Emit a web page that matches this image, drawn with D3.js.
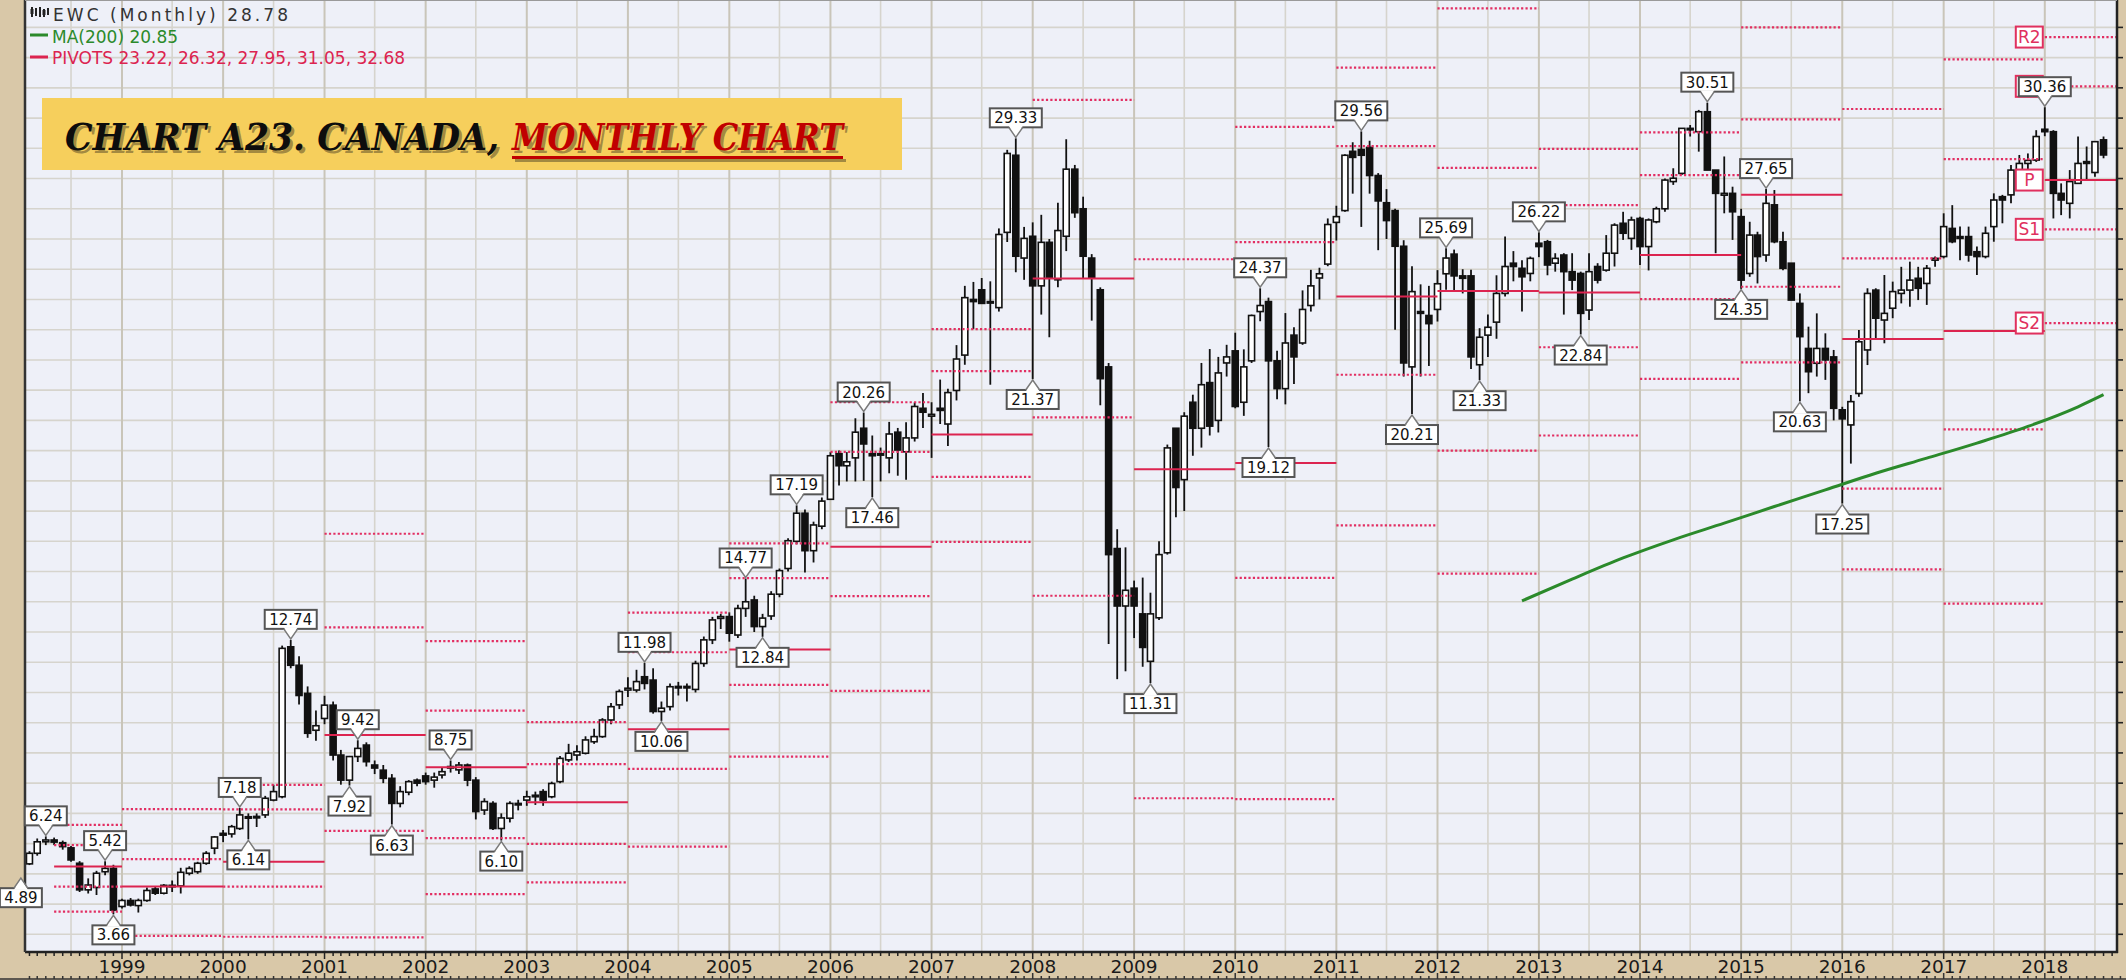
<!DOCTYPE html>
<html>
<head>
<meta charset="utf-8">
<script src="https://cdn.jsdelivr.net/npm/d3@7"></script>
<style>
  html, body { margin: 0; padding: 0; background: #d9c8a8; }
  svg { display: block; }
</style>
</head>
<body>
<svg id="chart" width="2126" height="980"></svg>
<script>
// ---------------------------------------------------------------
// EWC monthly candles, Jan 1998 – Aug 2018
// ---------------------------------------------------------------
const firstMonth = "1998-01";

const open = [
  // 1998
  5.00, 5.33, 5.68, 6.06, 6.12, 6.03, 5.86, 5.35, 4.47, 4.55, 5.07, 5.18,
  // 1999
  3.92, 4.12, 3.95, 4.12, 4.50, 4.36, 4.62, 4.60, 5.02, 5.07, 5.35, 5.85,
  // 2000
  6.34, 6.32, 6.50, 6.89, 6.90, 6.95, 7.44, 7.55, 12.51, 11.90, 10.97, 9.75,
  // 2001
  10.14, 10.58, 8.93, 8.10, 8.88, 9.26, 8.60, 8.43, 8.16, 7.33, 7.70, 8.10,
  // 2002
  8.24, 8.10, 8.27, 8.50, 8.44, 8.60, 8.10, 7.11, 7.33, 6.50, 6.84, 7.33,
  // 2003
  7.44, 7.55, 7.72, 7.55, 8.05, 8.77, 8.93, 8.99, 9.37, 9.54, 10.09, 10.59,
  // 2004
  11.08, 11.08, 11.52, 11.41, 10.37, 10.53, 11.20, 11.15, 11.10, 11.96, 12.74, 13.45,
  // 2005
  13.51, 12.90, 13.78, 14.06, 13.18, 13.53, 14.25, 15.10, 16.00, 16.93, 15.69, 16.50,
  // 2006
  17.39, 18.90, 18.50, 18.76, 19.74, 18.90, 18.85, 18.76, 19.61, 18.96, 19.42, 20.40,
  // 2007
  20.14, 20.40, 19.88, 20.99, 22.16, 24.00, 24.32, 23.90, 23.73, 26.22, 28.77, 25.37,
  // 2008
  26.09, 24.45, 25.89, 24.65, 26.09, 28.31, 27.00, 25.37, 24.32, 21.77, 15.76, 13.86,
  // 2009
  14.45, 13.60, 12.03, 13.47, 15.62, 19.74, 18.04, 20.60, 19.74, 21.25, 20.00, 21.90,
  // 2010
  22.30, 20.60, 21.97, 23.60, 23.93, 21.97, 21.05, 22.82, 22.56, 23.80, 24.71, 25.17,
  // 2011
  26.55, 26.94, 28.90, 28.96, 29.03, 28.10, 27.20, 26.94, 25.76, 21.77, 23.60, 23.47,
  // 2012
  23.67, 24.85, 25.50, 24.78, 24.78, 21.84, 22.82, 23.25, 24.20, 25.20, 25.03, 24.86,
  // 2013
  25.86, 25.91, 25.20, 25.47, 24.92, 24.86, 23.65, 25.09, 24.97, 25.53, 26.52, 26.02,
  // 2014
  26.68, 25.75, 26.57, 27.00, 27.90, 28.17, 29.66, 29.55, 30.21, 28.28, 27.45, 27.51,
  // 2015
  26.74, 24.86, 26.13, 25.47, 27.13, 25.91, 25.20, 23.87, 22.38, 21.89, 22.38, 22.10,
  // 2016
  20.35, 19.85, 20.89, 22.33, 24.31, 23.32, 23.71, 24.20, 24.31, 24.70, 24.53, 25.30,
  // 2017
  25.42, 26.35, 26.08, 26.08, 25.58, 25.42, 26.41, 27.40, 27.46, 28.28, 28.50, 28.61,
  // 2018
  29.63, 29.55, 27.51, 27.18, 27.84, 28.56, 28.20, 29.28
];

const high = [
  5.40, 5.75, 6.17, 6.24, 6.20, 6.10, 5.92, 5.42, 4.85, 5.10, 5.42, 5.30,
  4.18, 4.20, 4.18, 4.55, 4.58, 4.66, 4.78, 5.20, 5.25, 5.40, 5.75, 6.25,
  6.45, 6.62, 7.18, 7.00, 7.00, 7.58, 7.95, 12.55, 12.74, 12.20, 11.20, 10.40,
  10.89, 10.70, 9.10, 8.90, 9.42, 9.35, 8.75, 8.60, 8.30, 7.90, 8.10, 8.15,
  8.35, 8.35, 8.50, 8.75, 8.70, 8.65, 8.20, 7.50, 7.40, 7.00, 7.40, 7.45,
  7.75, 7.72, 7.80, 8.05, 8.90, 9.30, 9.25, 9.55, 9.80, 10.15, 10.65, 11.10,
  11.50, 11.75, 11.98, 11.80, 10.70, 11.30, 11.35, 11.30, 12.05, 12.85, 13.50, 13.60,
  13.65, 13.90, 14.77, 14.20, 13.60, 14.35, 15.10, 16.10, 17.19, 17.05, 16.65, 17.45,
  18.95, 19.00, 18.95, 20.07, 20.26, 19.50, 19.10, 19.95, 19.75, 19.94, 20.60, 20.91,
  20.60, 21.35, 21.05, 22.49, 24.45, 24.58, 24.71, 24.60, 26.35, 28.95, 29.33, 26.40,
  26.55, 26.80, 26.00, 27.20, 29.30, 28.45, 27.40, 25.50, 24.40, 21.90, 16.40, 15.80,
  14.70, 14.80, 14.30, 16.00, 19.20, 19.75, 20.27, 20.85, 21.90, 22.36, 22.10, 22.50,
  22.90, 22.35, 23.50, 24.37, 24.06, 22.30, 23.55, 23.08, 24.30, 24.98, 25.05, 26.68,
  27.10, 28.80, 29.20, 29.56, 29.25, 28.18, 27.65, 27.00, 25.96, 25.10, 24.50, 24.45,
  24.97, 25.69, 25.65, 25.00, 24.98, 23.05, 23.50, 24.80, 26.08, 25.60, 25.30, 25.42,
  26.22, 25.97, 25.53, 25.53, 25.53, 24.92, 25.53, 25.20, 26.13, 26.52, 26.90, 26.74,
  26.74, 26.68, 27.07, 28.00, 28.34, 29.66, 29.77, 30.27, 30.51, 28.28, 28.73, 27.73,
  27.00, 26.57, 26.24, 27.65, 27.62, 26.24, 25.20, 24.20, 23.10, 23.54, 22.88, 22.33,
  20.45, 20.84, 22.99, 24.37, 24.37, 24.81, 24.59, 25.08, 25.25, 25.08, 25.14, 25.42,
  26.85, 27.12, 26.41, 26.41, 25.75, 26.41, 27.51, 27.46, 28.45, 28.78, 28.83, 29.60,
  30.36, 29.60, 27.84, 28.28, 29.39, 29.06, 29.22, 29.39
];

const low = [
  4.89, 5.29, 5.60, 5.95, 5.95, 5.80, 5.40, 4.40, 4.35, 4.30, 4.95, 3.66,
  3.85, 3.92, 3.72, 4.08, 4.30, 4.32, 4.40, 4.35, 4.95, 5.00, 5.30, 5.65,
  6.05, 6.20, 6.45, 6.14, 6.55, 6.85, 7.40, 7.50, 11.80, 10.60, 9.50, 9.40,
  9.95, 8.75, 7.95, 7.92, 8.70, 8.55, 8.30, 8.00, 6.63, 7.20, 7.60, 7.90,
  7.95, 7.85, 8.15, 8.35, 8.30, 7.90, 6.80, 6.95, 6.45, 6.10, 6.70, 7.10,
  7.25, 7.28, 7.25, 7.50, 8.00, 8.70, 8.75, 8.95, 9.30, 9.50, 9.95, 10.45,
  10.85, 11.00, 11.10, 10.30, 10.06, 10.40, 10.90, 10.70, 11.00, 11.85, 12.60, 13.10,
  12.68, 12.80, 13.50, 13.00, 12.84, 13.40, 14.15, 15.00, 15.90, 14.97, 15.30, 16.40,
  17.50, 17.85, 17.98, 17.98, 18.00, 17.46, 17.98, 18.25, 18.17, 18.04, 19.30, 19.75,
  18.76, 19.88, 19.15, 20.66, 21.84, 23.02, 23.87, 21.18, 23.60, 25.90, 24.90, 24.65,
  21.37, 23.50, 22.75, 24.40, 25.60, 26.70, 24.70, 23.30, 20.50, 12.60, 11.44, 11.70,
  12.80, 11.85, 11.31, 13.40, 15.56, 16.80, 17.00, 18.83, 19.10, 19.50, 19.60, 21.45,
  20.40, 20.15, 21.90, 23.28, 19.12, 20.70, 20.53, 21.20, 22.50, 23.60, 24.00, 25.10,
  25.95, 26.90, 27.50, 26.40, 27.50, 25.63, 26.00, 23.00, 21.45, 20.21, 21.45, 21.80,
  23.27, 24.32, 24.30, 24.20, 21.70, 21.33, 22.10, 22.70, 24.10, 24.60, 23.60, 24.60,
  25.40, 24.80, 24.92, 23.50, 24.31, 22.84, 23.32, 24.53, 24.92, 25.09, 25.97, 25.64,
  25.14, 24.96, 26.52, 26.90, 27.79, 28.12, 29.39, 28.89, 28.28, 25.53, 26.85, 25.97,
  24.35, 24.75, 24.53, 25.25, 25.86, 24.97, 23.98, 20.63, 20.90, 21.45, 21.34, 20.00,
  17.25, 18.57, 20.78, 21.83, 22.66, 22.55, 23.38, 23.87, 23.76, 23.98, 23.82, 25.08,
  25.36, 25.86, 25.30, 25.25, 24.81, 25.36, 25.91, 26.52, 27.18, 28.00, 28.10, 28.55,
  29.40, 26.68, 26.79, 26.68, 27.84, 27.95, 28.06, 28.67
];

const close = [
  5.30, 5.68, 6.06, 6.12, 6.05, 5.90, 5.46, 4.47, 4.63, 5.02, 5.18, 3.80,
  4.12, 3.97, 4.12, 4.45, 4.36, 4.62, 4.58, 5.05, 5.18, 5.35, 5.68, 6.22,
  6.28, 6.56, 6.95, 6.84, 6.86, 7.50, 7.72, 12.46, 11.90, 10.90, 9.65, 9.90,
  10.58, 8.93, 8.10, 8.88, 9.15, 8.71, 8.50, 8.16, 7.33, 7.72, 8.05, 8.00,
  8.05, 8.20, 8.38, 8.55, 8.60, 8.10, 7.06, 7.39, 6.50, 6.85, 7.33, 7.28,
  7.55, 7.60, 7.44, 7.99, 8.82, 8.99, 9.04, 9.43, 9.54, 10.09, 10.53, 11.03,
  11.14, 11.36, 11.30, 10.37, 10.48, 11.19, 11.15, 11.20, 11.96, 12.74, 13.40, 13.51,
  12.96, 13.78, 14.00, 13.18, 13.46, 14.25, 15.03, 16.02, 16.93, 15.69, 16.54, 17.33,
  18.83, 18.50, 18.63, 19.61, 19.22, 18.83, 18.90, 19.55, 19.02, 19.42, 20.46, 20.27,
  20.20, 20.33, 20.92, 22.03, 24.06, 23.93, 23.87, 23.93, 26.15, 28.83, 25.43, 26.02,
  24.45, 25.89, 24.71, 26.28, 28.31, 26.87, 25.43, 24.71, 21.38, 15.56, 13.86, 14.38,
  13.86, 12.49, 13.60, 15.56, 19.09, 17.78, 20.14, 19.74, 21.18, 19.81, 21.57, 22.10,
  20.46, 21.77, 23.47, 23.80, 21.97, 21.05, 22.56, 22.10, 23.67, 24.45, 24.85, 26.48,
  26.74, 28.77, 28.70, 28.77, 28.10, 27.26, 26.61, 25.76, 21.90, 24.26, 23.54, 23.20,
  24.52, 25.37, 24.78, 24.70, 22.10, 22.75, 23.08, 24.20, 25.09, 25.09, 24.75, 25.36,
  25.75, 25.14, 25.36, 24.92, 24.64, 23.54, 24.92, 24.64, 25.53, 26.46, 26.19, 26.63,
  25.75, 26.63, 27.00, 27.95, 28.01, 29.66, 29.61, 30.21, 28.28, 27.51, 27.51, 26.90,
  24.64, 26.13, 25.42, 27.18, 25.91, 25.03, 23.98, 22.77, 21.61, 22.38, 22.00, 20.40,
  20.05, 20.62, 22.60, 24.20, 23.38, 23.54, 24.26, 24.31, 24.64, 24.37, 25.03, 25.36,
  26.41, 25.91, 26.02, 25.47, 25.42, 26.19, 27.29, 27.29, 28.28, 28.50, 28.60, 29.39,
  29.55, 27.51, 27.29, 27.90, 28.50, 28.50, 29.22, 28.78
];

// 200-month moving average (green overlay)
const maMonths = ["2012-11", "2013-05", "2013-11", "2014-05", "2014-11", "2015-05", "2015-11",
                  "2016-05", "2016-11", "2017-05", "2017-11", "2018-05", "2018-08"];
const maValues = [14.03, 14.75, 15.45, 16.05, 16.60, 17.15, 17.70,
                  18.25, 18.75, 19.25, 19.80, 20.45, 20.85];

// Annual pivot levels
const pivotYears = [1998, 1999, 2000, 2001, 2002, 2003, 2004, 2005, 2006, 2007, 2008,
                    2009, 2010, 2011, 2012, 2013, 2014, 2015, 2016, 2017, 2018];
const pivotR2 = [6.62, 7.14, 7.94, 16.25, 12.70, 10.02, 13.64, 15.93, 20.60, 23.02, 35.20,
                 36.20, 29.71, 31.67, 33.63, 28.98, 29.53, 33.00, 30.30, 31.94, 32.68];
const pivotR1 = [5.95, 5.49, 7.13, 13.15, 10.40, 8.63, 12.33, 14.78, 18.96, 21.63, 30.60,
                 25.33, 25.90, 29.07, 28.35, 27.12, 28.11, 29.96, 25.36, 28.64, 31.05];
const pivotP  = [5.24, 4.58, 5.40, 9.59, 8.53, 7.37, 9.78, 12.42, 15.82, 19.53, 24.69,
                 18.38, 18.59, 24.10, 24.28, 24.23, 25.47, 27.46, 22.69, 22.96, 27.95];
const pivotS1 = [4.58, 2.95, 4.58, 6.42, 6.18, 5.99, 8.47, 11.25, 14.19, 18.13, 20.10,
                 7.50, 14.79, 21.51, 19.00, 22.42, 24.01, 24.42, 17.74, 19.70, 26.32];
const pivotS2 = [3.75, 2.00, 2.92, 2.90, 4.33, 4.72, 5.90, 8.88, 11.05, 15.98, 14.20,
                 0.50, 7.47, 16.53, 14.93, 19.50, 21.37, 21.92, 15.07, 13.94, 23.22];

// Swing high / low call-outs (month index into the candle arrays, kind)
const calloutMonth = [0, 3, 10, 11, 26, 27, 32, 39, 40, 44, 51, 57, 74, 76, 86, 88, 92, 100,
                      101, 118, 120, 134, 147, 148, 159, 165, 169, 173, 180, 185, 200, 204,
                      207, 211, 216, 240];
const calloutKind = ["L", "H", "H", "L", "H", "L", "H", "L", "H", "L", "H", "L", "H", "L", "H", "L", "H", "H",
                     "L", "H", "L", "L", "H", "L", "H", "L", "H", "L", "H", "L", "H", "L",
                     "H", "L", "L", "H"];

const yearTicks = d3.range(1999, 2019);
const legendLast = 28.78;
const legendMA = 20.85;

// ---------------------------------------------------------------
const W = 2126, H = 980;
const plot = { left: 25, right: 2117, top: 0, bottom: 952 };

const parseMonth = d3.timeParse("%Y-%m");
const start = parseMonth(firstMonth);
const candles = open.map((o, i) => ({
  date: d3.timeMonth.offset(start, i),
  o, h: high[i], l: low[i], c: close[i]
}));

const x = d3.scaleTime()
  .domain([new Date(1999, 0, 1), new Date(2018, 0, 1)])
  .range([122, 2044.8]);
const y = d3.scaleLinear().domain([0, 33.906]).range([1025, 0]);

const svg = d3.select("#chart");
const FONT = "'DejaVu Sans', Verdana, sans-serif";

svg.append("rect").attr("width", W).attr("height", H).attr("fill", "#d9c8a8");
svg.append("rect")
  .attr("x", plot.left).attr("y", plot.top)
  .attr("width", plot.right - plot.left).attr("height", plot.bottom - plot.top)
  .attr("fill", "#eef0f8");

svg.append("defs").append("clipPath").attr("id", "plotClip")
  .append("rect")
  .attr("x", plot.left).attr("y", plot.top)
  .attr("width", plot.right - plot.left).attr("height", plot.bottom - plot.top);

// ---- grid
const grid = svg.append("g").attr("clip-path", "url(#plotClip)");
grid.selectAll("line.hg").data(d3.range(3, 34)).join("line")
  .attr("class", "hg")
  .attr("x1", plot.left).attr("x2", plot.right)
  .attr("y1", d => y(d)).attr("y2", d => y(d))
  .attr("stroke", "#d6d4cd").attr("stroke-width", 1.6);
const halfYears = d3.timeMonth.every(6).range(new Date(1998, 0, 1), new Date(2019, 0, 2));
grid.selectAll("line.vg").data(halfYears).join("line")
  .attr("class", "vg")
  .attr("x1", d => x(d)).attr("x2", d => x(d))
  .attr("y1", plot.top).attr("y2", plot.bottom)
  .attr("stroke", d => d.getMonth() === 0 ? "#c9c5b9" : "#d6d4cd")
  .attr("stroke-width", d => d.getMonth() === 0 ? 2 : 1.6);

// ---- candles
const cg = svg.append("g").attr("clip-path", "url(#plotClip)");
const bodyW = 6;
cg.selectAll("line.wick").data(candles).join("line")
  .attr("class", "wick")
  .attr("x1", d => x(d.date)).attr("x2", d => x(d.date))
  .attr("y1", d => y(d.h)).attr("y2", d => y(d.l))
  .attr("stroke", "#111").attr("stroke-width", 1.8);
cg.selectAll("rect.body").data(candles).join("rect")
  .attr("class", "body")
  .attr("x", d => x(d.date) - bodyW / 2)
  .attr("width", bodyW)
  .attr("y", d => y(Math.max(d.o, d.c)))
  .attr("height", d => Math.max(1.5, Math.abs(y(d.o) - y(d.c))))
  .attr("fill", d => d.c < d.o ? "#111" : "#ffffff")
  .attr("stroke", "#111").attr("stroke-width", 1.6);

// ---- pivot segments
const levels = [
  { key: "R2", vals: pivotR2, solid: false },
  { key: "R1", vals: pivotR1, solid: false },
  { key: "P",  vals: pivotP,  solid: true },
  { key: "S1", vals: pivotS1, solid: false },
  { key: "S2", vals: pivotS2, solid: false }
];
const segs = [];
pivotYears.forEach((yr, k) => {
  const x0 = k === 0 ? x(d3.timeMonth.offset(start, 4)) : x(new Date(yr, 0, 1));
  const x1 = k === pivotYears.length - 1 ? plot.right : x(new Date(yr + 1, 0, 1));
  levels.forEach(lv => segs.push({ x0, x1, v: lv.vals[k], solid: lv.solid }));
});
const pg = svg.append("g").attr("clip-path", "url(#plotClip)");
pg.selectAll("line").data(segs).join("line")
  .attr("x1", d => d.x0).attr("x2", d => d.x1)
  .attr("y1", d => y(d.v)).attr("y2", d => y(d.v))
  .attr("stroke", d => d.solid ? "#dc2450" : "#e22e62")
  .attr("stroke-width", d => d.solid ? 2 : 2.2)
  .attr("stroke-dasharray", d => d.solid ? null : "2.2,2.2");

// ---- moving average
const maData = maMonths.map((m, i) => ({ date: parseMonth(m), v: maValues[i] }));
svg.append("path").datum(maData)
  .attr("clip-path", "url(#plotClip)")
  .attr("fill", "none").attr("stroke", "#2b8a2b").attr("stroke-width", 3)
  .attr("d", d3.line().x(d => x(d.date)).y(d => y(d.v)).curve(d3.curveMonotoneX));

// ---- axes frame
const axis = svg.append("g");
axis.append("line").attr("x1", plot.left).attr("x2", plot.right + 1)
  .attr("y1", plot.bottom).attr("y2", plot.bottom).attr("stroke", "#222").attr("stroke-width", 2.5);
axis.append("line").attr("x1", plot.left).attr("x2", plot.left)
  .attr("y1", 0).attr("y2", plot.bottom).attr("stroke", "#333").attr("stroke-width", 2.5);
axis.append("line").attr("x1", plot.right).attr("x2", plot.right)
  .attr("y1", 0).attr("y2", plot.bottom + 1).attr("stroke", "#222").attr("stroke-width", 2.5);
axis.append("line").attr("x1", plot.left).attr("x2", plot.right)
  .attr("y1", 0.5).attr("y2", 0.5).attr("stroke", "#9a9a9a").attr("stroke-width", 1);

// month ticks along the date axis
const allMonths = d3.timeMonth.range(new Date(1998, 1, 1), new Date(2018, 11, 1));
axis.selectAll("line.mt").data(allMonths.filter(d => x(d) > plot.left && x(d) < plot.right)).join("line")
  .attr("class", "mt")
  .attr("x1", d => x(d)).attr("x2", d => x(d))
  .attr("y1", plot.bottom).attr("y2", d => plot.bottom + (d.getMonth() === 0 ? 7 : 4))
  .attr("stroke", "#222").attr("stroke-width", 1.5);
axis.append("line").attr("x1", 0).attr("x2", W).attr("y1", 979).attr("y2", 979)
  .attr("stroke", "#333").attr("stroke-width", 1.5);
axis.selectAll("line.bt").data(allMonths).join("line")
  .attr("class", "bt")
  .attr("x1", d => x(d)).attr("x2", d => x(d))
  .attr("y1", 979).attr("y2", d => 979 - (d.getMonth() === 0 ? 6 : 3))
  .attr("stroke", "#333").attr("stroke-width", 1.5);
axis.selectAll("text.yr").data(yearTicks).join("text")
  .attr("class", "yr")
  .attr("x", d => x(new Date(d, 0, 1))).attr("y", 973)
  .attr("text-anchor", "middle")
  .attr("font-family", FONT).attr("font-size", 18.5).attr("fill", "#1a1a1a")
  .text(d => d);

// price ticks on the right edge
axis.selectAll("line.pt").data(d3.range(3, 34)).join("line")
  .attr("class", "pt")
  .attr("x1", plot.right).attr("x2", plot.right + 6)
  .attr("y1", d => y(d)).attr("y2", d => y(d))
  .attr("stroke", "#222").attr("stroke-width", 1.6);

// ---- pivot tags for the current year (R1 sits under the swing-high call-out)
const tagG = svg.append("g");
const lastK = pivotYears.length - 1;
const tagRight = x(new Date(pivotYears[lastK], 0, 1)) - 2;
levels.forEach(lv => {
  const cy = y(lv.vals[lastK]);
  const w = 27, h = 21;
  tagG.append("rect")
    .attr("x", tagRight - w).attr("y", cy - h / 2).attr("width", w).attr("height", h)
    .attr("fill", "#ffffff").attr("stroke", "#e0305e").attr("stroke-width", 2);
  if (lv.key !== "R1") {
    tagG.append("text")
      .attr("x", tagRight - w / 2).attr("y", cy + 6)
      .attr("text-anchor", "middle").attr("font-family", FONT).attr("font-size", 17)
      .attr("fill", "#e0305e").text(lv.key);
  }
});

// ---- call-outs
const fmt = d3.format(".2f");
const cog = svg.append("g");
const measure = svg.append("text").attr("font-family", FONT).attr("font-size", 15).attr("opacity", 0);
calloutMonth.forEach((idx, k) => {
  const d = candles[idx];
  const isHigh = calloutKind[k] === "H";
  const val = isHigh ? d.h : d.l;
  const label = fmt(val);
  measure.text(label);
  const tw = measure.node().getComputedTextLength();
  const bw = Math.round(tw + 9), bh = 19, th = 10, half = 7;
  const cx = x(d.date);
  const tip = isHigh ? y(val) - 1 : y(val) + 1;
  const edge = isHigh ? tip - th : tip + th;
  const boxY = isHigh ? edge - bh : edge;
  const g = cog.append("g");
  g.append("rect")
    .attr("x", cx - bw / 2).attr("y", boxY).attr("width", bw).attr("height", bh)
    .attr("fill", "#ffffff").attr("stroke", "#555").attr("stroke-width", 2);
  g.append("path")
    .attr("d", `M${cx - half},${edge + (isHigh ? -1.5 : 1.5)} L${cx},${tip} L${cx + half},${edge + (isHigh ? -1.5 : 1.5)} Z`)
    .attr("fill", "#ffffff").attr("stroke", "none");
  g.append("path")
    .attr("d", `M${cx - half},${edge} L${cx},${tip} L${cx + half},${edge}`)
    .attr("fill", "none").attr("stroke", "#7a7a7a").attr("stroke-width", 1.5);
  g.append("text")
    .attr("x", cx).attr("y", boxY + 15)
    .attr("text-anchor", "middle").attr("font-family", FONT).attr("font-size", 15)
    .attr("fill", "#111").text(label);
});
measure.remove();

// ---- legend block
const lg = svg.append("g");
// small candle glyph
lg.append("path").attr("d", "M32,7 V17 M36,8 V16 M40,7 V17 M44,9 V17 M48,8 V15")
  .attr("stroke", "#222").attr("stroke-width", 2);
lg.append("rect").attr("x", 30.5).attr("y", 9).attr("width", 3).attr("height", 5).attr("fill", "#222");
lg.append("rect").attr("x", 42.5).attr("y", 10).attr("width", 3).attr("height", 5).attr("fill", "#222");
lg.append("text").attr("x", 53).attr("y", 21)
  .attr("font-family", FONT).attr("font-size", 17).attr("fill", "#333")
  .attr("textLength", 235).attr("lengthAdjust", "spacing")
  .text(`EWC (Monthly) ${fmt(legendLast)}`);
lg.append("line").attr("x1", 30).attr("x2", 48).attr("y1", 35).attr("y2", 35)
  .attr("stroke", "#2b8a2b").attr("stroke-width", 3);
lg.append("text").attr("x", 52).attr("y", 43)
  .attr("font-family", FONT).attr("font-size", 17).attr("fill", "#2b8a2b")
  .text(`MA(200) ${fmt(legendMA)}`);
lg.append("line").attr("x1", 30).attr("x2", 48).attr("y1", 57).attr("y2", 57)
  .attr("stroke", "#dc2450").attr("stroke-width", 3);
lg.append("text").attr("x", 52).attr("y", 64)
  .attr("font-family", FONT).attr("font-size", 17).attr("fill", "#dc2450")
  .text("PIVOTS " + [pivotS2[lastK], pivotS1[lastK], pivotP[lastK], pivotR1[lastK], pivotR2[lastK]].map(fmt).join(", "));

// ---- title banner
const tg = svg.append("g");
tg.append("rect").attr("x", 42).attr("y", 98).attr("width", 860).attr("height", 72)
  .attr("fill", "#f6cf5c");
const titleFont = "'DejaVu Serif', 'Liberation Serif', serif";
function titleText(tx, txt, len, color, dx) {
  tg.append("text").attr("x", tx + dx).attr("y", 150 + dx)
    .attr("font-family", titleFont).attr("font-weight", "bold").attr("font-style", "italic")
    .attr("font-size", 38).attr("textLength", len).attr("lengthAdjust", "spacingAndGlyphs")
    .attr("fill", color).text(txt);
}
titleText(65, "CHART A23. CANADA,", 434, "rgba(60,50,30,0.45)", 3);
titleText(512, "MONTHLY CHART", 331, "rgba(60,50,30,0.45)", 3);
tg.append("rect").attr("x", 515).attr("y", 159).attr("width", 331).attr("height", 3).attr("fill", "rgba(60,50,30,0.45)");
titleText(65, "CHART A23. CANADA,", 434, "#0d0d0d", 0);
titleText(512, "MONTHLY CHART", 331, "#c00000", 0);
tg.append("rect").attr("x", 512).attr("y", 156).attr("width", 331).attr("height", 3).attr("fill", "#c00000");
</script>
</body>
</html>
